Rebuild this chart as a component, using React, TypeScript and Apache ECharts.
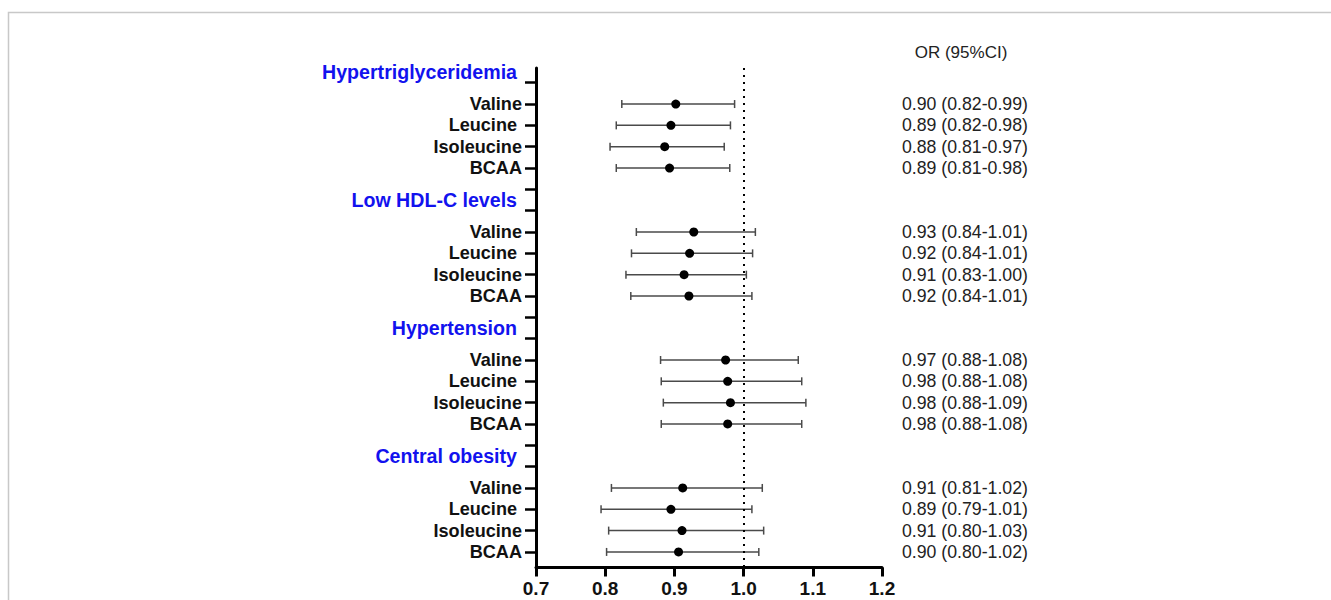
import React, { useEffect, useRef } from "react";
import * as echarts from "echarts";

const groups = ["Hypertriglyceridemia", "Low HDL-C levels", "Hypertension", "Central obesity"];
const markers = ["Valine", "Leucine", "Isoleucine", "BCAA"];

// point estimates, per group, per marker
const orValues = [
  [0.902, 0.895, 0.886, 0.893],
  [0.928, 0.922, 0.914, 0.921],
  [0.974, 0.977, 0.981, 0.977],
  [0.912, 0.895, 0.911, 0.906],
];
const loValues = [
  [0.824, 0.816, 0.807, 0.816],
  [0.845, 0.838, 0.830, 0.837],
  [0.880, 0.881, 0.884, 0.881],
  [0.809, 0.794, 0.805, 0.802],
];
const hiValues = [
  [0.987, 0.981, 0.972, 0.980],
  [1.017, 1.013, 1.004, 1.012],
  [1.079, 1.084, 1.090, 1.084],
  [1.027, 1.012, 1.029, 1.022],
];
const orLabels = [
  ["0.90 (0.82-0.99)", "0.89 (0.82-0.98)", "0.88 (0.81-0.97)", "0.89 (0.81-0.98)"],
  ["0.93 (0.84-1.01)", "0.92 (0.84-1.01)", "0.91 (0.83-1.00)", "0.92 (0.84-1.01)"],
  ["0.97 (0.88-1.08)", "0.98 (0.88-1.08)", "0.98 (0.88-1.09)", "0.98 (0.88-1.08)"],
  ["0.91 (0.81-1.02)", "0.89 (0.79-1.01)", "0.91 (0.80-1.03)", "0.90 (0.80-1.02)"],
];
const xTicks = [0.7, 0.8, 0.9, 1.0, 1.1, 1.2];
const columnTitle = "OR (95%CI)";

export default function App() {
  const ref = useRef<HTMLDivElement>(null);
  useEffect(() => {
    document.body.style.margin = "0";
    if (!ref.current) return;
    const chart = echarts.init(ref.current, null, { renderer: "svg" });

    const rowsPerGroup = 6;
    const tickPos: number[] = [];
    const leftLabelPos: number[] = [];
    const itemPos: number[] = [];
    const leftLabelMap: Record<string, string> = {};
    const rightLabelMap: Record<string, string> = {};
    const points: number[][] = [];
    const bars: number[][] = [];

    groups.forEach((g, gi) => {
      const base = gi * rowsPerGroup;
      tickPos.push(base, base + 1);
      const hp = base + 0.5;
      leftLabelPos.push(hp);
      leftLabelMap[hp.toFixed(2)] = `{h|${g}}`;
      markers.forEach((m, mi) => {
        const p = base + 2 + mi;
        tickPos.push(p);
        leftLabelPos.push(p);
        itemPos.push(p);
        leftLabelMap[p.toFixed(2)] = m === "Leucine" ? `{ml|${m}}` : `{m|${m}}`;
        rightLabelMap[p.toFixed(2)] = orLabels[gi][mi];
        points.push([orValues[gi][mi], p]);
        bars.push([loValues[gi][mi], hiValues[gi][mi], p]);
      });
    });

    const yMin = 0.31;
    const yMax = 23.73;
    const ff = "Liberation Sans, Arial, sans-serif";

    chart.setOption({
      animation: false,
      grid: { left: 536, right: 449, top: 68, bottom: 32.5 },
      xAxis: {
        type: "value",
        min: xTicks[0],
        max: xTicks[xTicks.length - 1],
        interval: 0.1,
        splitLine: { show: false },
        axisLine: { show: true, onZero: false, lineStyle: { color: "#000", width: 3 } },
        axisTick: { show: true, length: 9, lineStyle: { color: "#000", width: 3 } },
        axisLabel: {
          margin: 11,
          color: "#111",
          fontFamily: ff,
          fontWeight: "bold",
          fontSize: 19,
          formatter: (v: number) => v.toFixed(1),
        },
      },
      yAxis: [
        {
          type: "value",
          inverse: true,
          min: yMin,
          max: yMax,
          splitLine: { show: false },
          axisLine: { show: true, onZero: false, lineStyle: { color: "#000", width: 3 } },
          axisTick: { show: true, length: 11, customValues: tickPos, lineStyle: { color: "#000", width: 2.5 } },
          axisLabel: {
            show: true,
            margin: 14,
            customValues: leftLabelPos,
            fontFamily: ff,
            fontWeight: "bold",
            formatter: (v: number) => leftLabelMap[v.toFixed(2)] || "",
            rich: {
              h: { color: "#1212ee", fontWeight: "bold", fontSize: 19.6, padding: [0, 5, 0, 0], fontFamily: ff },
              m: { color: "#111", fontWeight: "bold", fontSize: 18.1, fontFamily: ff },
              ml: { color: "#111", fontWeight: "bold", fontSize: 18.1, padding: [0, 5, 0, 0], fontFamily: ff },
            },
          },
        },
        {
          type: "value",
          inverse: true,
          position: "right",
          min: yMin,
          max: yMax,
          splitLine: { show: false },
          axisLine: { show: false },
          axisTick: { show: false },
          axisLabel: {
            show: true,
            margin: 20,
            customValues: itemPos,
            color: "#222",
            fontFamily: ff,
            fontSize: 17.7,
            formatter: (v: number) => rightLabelMap[v.toFixed(2)] || "",
          },
        },
      ],
      graphic: [
        {
          type: "rect",
          shape: { x: 8.5, y: 12.5, width: 1400, height: 700 },
          style: { fill: "none", stroke: "#c8c8c8", lineWidth: 1.5 },
          silent: true,
        },
        {
          type: "text",
          x: 961,
          y: 52,
          style: {
            text: columnTitle,
            fill: "#222",
            fontSize: 17,
            fontFamily: ff,
            textAlign: "center",
            textVerticalAlign: "middle",
          },
        },
      ],
      series: [
        {
          type: "custom",
          xAxisIndex: 0,
          yAxisIndex: 0,
          data: bars,
          encode: { x: [0, 1], y: 2 },
          renderItem: (params: any, api: any) => {
            const a = api.coord([api.value(0), api.value(2)]);
            const b = api.coord([api.value(1), api.value(2)]);
            const cap = 4;
            const style = { stroke: "#4a4a4a", lineWidth: 1.5 };
            return {
              type: "group",
              children: [
                { type: "line", shape: { x1: a[0], y1: a[1], x2: b[0], y2: b[1] }, style },
                { type: "line", shape: { x1: a[0], y1: a[1] - cap, x2: a[0], y2: a[1] + cap }, style },
                { type: "line", shape: { x1: b[0], y1: b[1] - cap, x2: b[0], y2: b[1] + cap }, style },
              ],
            };
          },
          silent: true,
          z: 2,
        },
        {
          type: "scatter",
          xAxisIndex: 0,
          yAxisIndex: 0,
          data: points,
          symbol: "circle",
          symbolSize: 9,
          itemStyle: { color: "#000", opacity: 1 },
          z: 3,
          markLine: {
            silent: true,
            symbol: "none",
            label: { show: false },
            lineStyle: { color: "#000", width: 2, type: [2, 5], opacity: 1 },
            data: [{ xAxis: 1.0 }],
          },
        },
      ],
    });
    return () => chart.dispose();
  }, []);
  return <div ref={ref} style={{ width: 1331, height: 600 }} />;
}
